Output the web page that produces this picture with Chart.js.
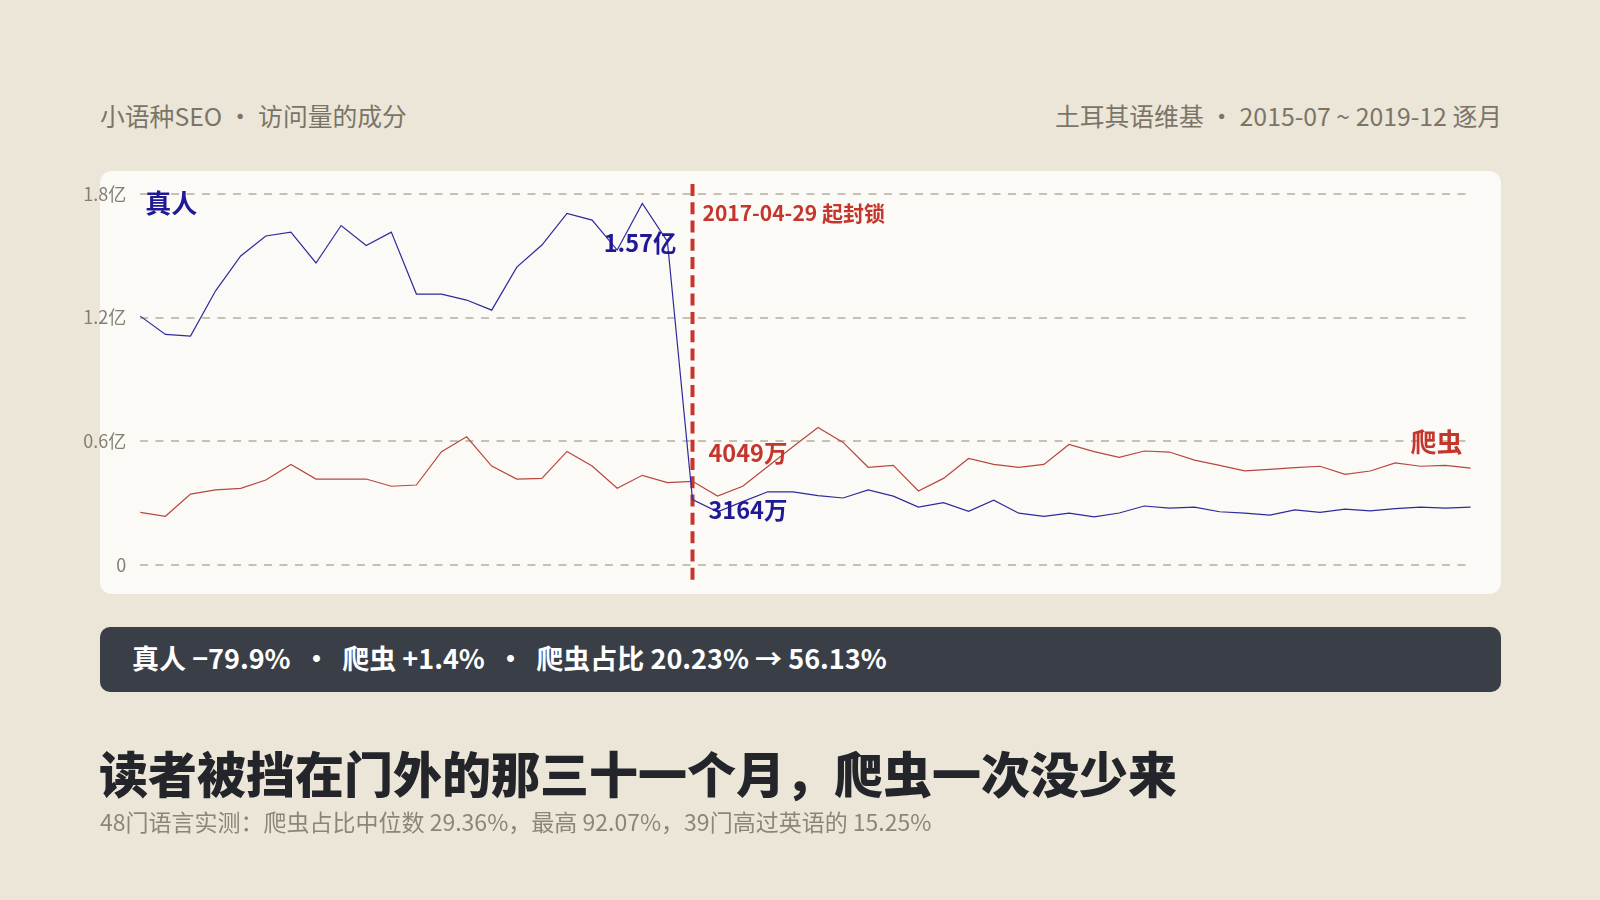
<!DOCTYPE html>
<html lang="zh-CN">
<head>
<meta charset="utf-8">
<title>小语种SEO · 访问量的成分</title>
<script src="https://cdn.jsdelivr.net/npm/chart.js@4.4.1/dist/chart.umd.min.js"></script>
<style>
  html, body { margin: 0; padding: 0; }
  body {
    width: 1600px; height: 900px; position: relative; overflow: hidden;
    background: #ebe6d8;
    font-family: "Noto Sans CJK SC", "Noto Sans", sans-serif;
  }
  .head { position: absolute; top: 100px; font-size: 24.8px; line-height: 30px; color: #7b7568; white-space: pre; }
  .head.left { left: 100px; }
  .head.right { right: 98px; }
  .card { position: absolute; left: 100px; top: 171px; width: 1401px; height: 423px; background: #fbfaf6; border-radius: 12px; }
  #chart { position: absolute; left: 0; top: 0; }
  .banner {
    position: absolute; left: 100px; top: 627px; width: 1401px; height: 65px;
    background: #3a3f47; border-radius: 10px; box-sizing: border-box; padding-left: 32px;
    color: #fff; font-weight: 700; font-size: 27px; line-height: 62px; white-space: pre;
  }
  h1 { position: absolute; left: 99px; top: 743px; margin: 0; font-size: 49px; line-height: 58px; font-weight: 900; color: #23252a; }
  .sub { position: absolute; left: 100px; top: 807px; font-size: 23px; line-height: 28px; color: #8b8679; }
</style>
</head>
<body>
<div class="head left">小语种SEO · 访问量的成分</div>
<div class="head right">土耳其语维基 · 2015-07 ~ 2019-12 逐月</div>
<div class="card"></div>
<canvas id="chart" width="1600" height="900"></canvas>
<div class="banner">真人 −79.9%  •  爬虫 +1.4%  •  爬虫占比 20.23% → 56.13%</div>
<h1>读者被挡在门外的那三十一个月，爬虫一次没少来</h1>
<div class="sub">48门语言实测：爬虫占比中位数 29.36%，最高 92.07%，39门高过英语的 15.25%</div>
<script>
// months, 2015-07 .. 2019-12
const months = [
  '2015-07','2015-08','2015-09','2015-10','2015-11','2015-12',
  '2016-01','2016-02','2016-03','2016-04','2016-05','2016-06','2016-07','2016-08','2016-09','2016-10','2016-11','2016-12',
  '2017-01','2017-02','2017-03','2017-04','2017-05','2017-06','2017-07','2017-08','2017-09','2017-10','2017-11','2017-12',
  '2018-01','2018-02','2018-03','2018-04','2018-05','2018-06','2018-07','2018-08','2018-09','2018-10','2018-11','2018-12',
  '2019-01','2019-02','2019-03','2019-04','2019-05','2019-06','2019-07','2019-08','2019-09','2019-10','2019-11','2019-12'
];

// monthly views, in 亿
const humanViews = [
  1.207, 1.118, 1.110, 1.330, 1.499, 1.596,
  1.615, 1.465, 1.647, 1.550, 1.615, 1.314, 1.314, 1.285, 1.236, 1.445, 1.552, 1.706,
  1.673, 1.528, 1.754, 1.570, 0.3164, 0.257, 0.306, 0.354, 0.354, 0.335, 0.324, 0.363,
  0.333, 0.280, 0.301, 0.259, 0.313, 0.250, 0.235, 0.250, 0.232, 0.251, 0.285, 0.275,
  0.280, 0.257, 0.250, 0.241, 0.266, 0.254, 0.270, 0.261, 0.272, 0.280, 0.275, 0.280
];
const crawlerViews = [
  0.254, 0.235, 0.343, 0.363, 0.371, 0.411,
  0.487, 0.416, 0.416, 0.416, 0.381, 0.387, 0.549, 0.621, 0.479, 0.416, 0.419, 0.550,
  0.479, 0.371, 0.434, 0.399, 0.4049, 0.333, 0.381, 0.477, 0.573, 0.666, 0.594, 0.473,
  0.482, 0.358, 0.419, 0.516, 0.487, 0.473, 0.487, 0.584, 0.549, 0.521, 0.552, 0.547,
  0.508, 0.482, 0.456, 0.463, 0.471, 0.478, 0.439, 0.455, 0.494, 0.478, 0.482, 0.469
];

const yTicks = [0, 0.6, 1.2, 1.8];
const seriesNames = ['真人', '爬虫'];
const blockMonth = '2017-05';
const blockLabel = '2017-04-29 起封锁';
const callouts = [
  { series: 0, month: '2017-04', text: '1.57亿' },
  { series: 1, month: '2017-05', text: '4049万' },
  { series: 0, month: '2017-05', text: '3164万' }
];

const HUMAN = '#2f2a9c', HUMAN_TEXT = '#1f1996';
const CRAWLER = '#b9473f', CRAWLER_TEXT = '#c4352c';
const FONT = '"Noto Sans CJK SC", "Noto Sans", sans-serif';

// where each callout sits relative to its point
const calloutPlace = [
  { dx: 9, dy: 2, align: 'right' },
  { dx: 16, dy: -28, align: 'left' },
  { dx: 16, dy: 11, align: 'left' }
];

const overlay = {
  id: 'overlay',
  beforeDatasetsDraw(chart) {
    const { ctx, chartArea, scales: { x } } = chart;
    const bx = x.getPixelForValue(months.indexOf(blockMonth));
    ctx.save();
    ctx.strokeStyle = '#c8352d';
    ctx.lineWidth = 4;
    ctx.setLineDash([12, 6.27]);
    ctx.beginPath();
    ctx.moveTo(bx, chartArea.top - 10);
    ctx.lineTo(bx, chartArea.bottom + 15);
    ctx.stroke();
    ctx.restore();
  },
  afterDatasetsDraw(chart) {
    const { ctx, chartArea, scales: { x, y } } = chart;
    const bx = x.getPixelForValue(months.indexOf(blockMonth));
    ctx.save();
    ctx.textBaseline = 'middle';

    ctx.fillStyle = CRAWLER_TEXT;
    ctx.font = `700 21px ${FONT}`;
    ctx.textAlign = 'left';
    ctx.fillText(blockLabel, bx + 10, chartArea.top + 19);

    ctx.font = `700 26px ${FONT}`;
    ctx.fillStyle = HUMAN_TEXT;
    ctx.fillText(seriesNames[0], chartArea.left + 5, chartArea.top + 9);
    ctx.fillStyle = CRAWLER_TEXT;
    ctx.textAlign = 'right';
    ctx.fillText(seriesNames[1], chartArea.right - 8, y.getPixelForValue(0.6) + 1);

    ctx.font = `700 23.5px ${FONT}`;
    callouts.forEach((c, i) => {
      const data = c.series === 0 ? humanViews : crawlerViews;
      const idx = months.indexOf(c.month);
      const px = x.getPixelForValue(idx);
      const py = y.getPixelForValue(data[idx]);
      const p = calloutPlace[i];
      ctx.fillStyle = c.series === 0 ? HUMAN_TEXT : CRAWLER_TEXT;
      ctx.textAlign = p.align;
      ctx.fillText(c.text, px + p.dx, py + p.dy);
    });
    ctx.restore();
  }
};

Chart.defaults.font.family = FONT;

new Chart(document.getElementById('chart'), {
  type: 'line',
  data: {
    labels: months,
    datasets: [
      { label: seriesNames[0], data: humanViews, borderColor: HUMAN, borderWidth: 1.2, pointRadius: 0, tension: 0, fill: false },
      { label: seriesNames[1], data: crawlerViews, borderColor: CRAWLER, borderWidth: 1.2, pointRadius: 0, tension: 0, fill: false }
    ]
  },
  options: {
    responsive: false,
    animation: false,
    layout: { padding: { left: 0, right: 129.4, top: 194, bottom: 335.3 } },
    plugins: { legend: { display: false }, tooltip: { enabled: false } },
    scales: {
      x: { display: false },
      y: {
        min: yTicks[0],
        max: yTicks[yTicks.length - 1],
        afterBuildTicks(scale) { scale.ticks = yTicks.map(v => ({ value: v })); },
        afterFit(scale) { scale.width = 140.3; },
        ticks: {
          padding: 14,
          color: '#857f71',
          font: { size: 18 },
          callback: v => (v === 0 ? '0' : v.toFixed(1) + '亿')
        },
        grid: { drawTicks: false, color: '#c6c1b2', lineWidth: 2 },
        border: { display: false, dash: [8, 7.5] }
      }
    }
  },
  plugins: [overlay]
});
</script>
</body>
</html>
